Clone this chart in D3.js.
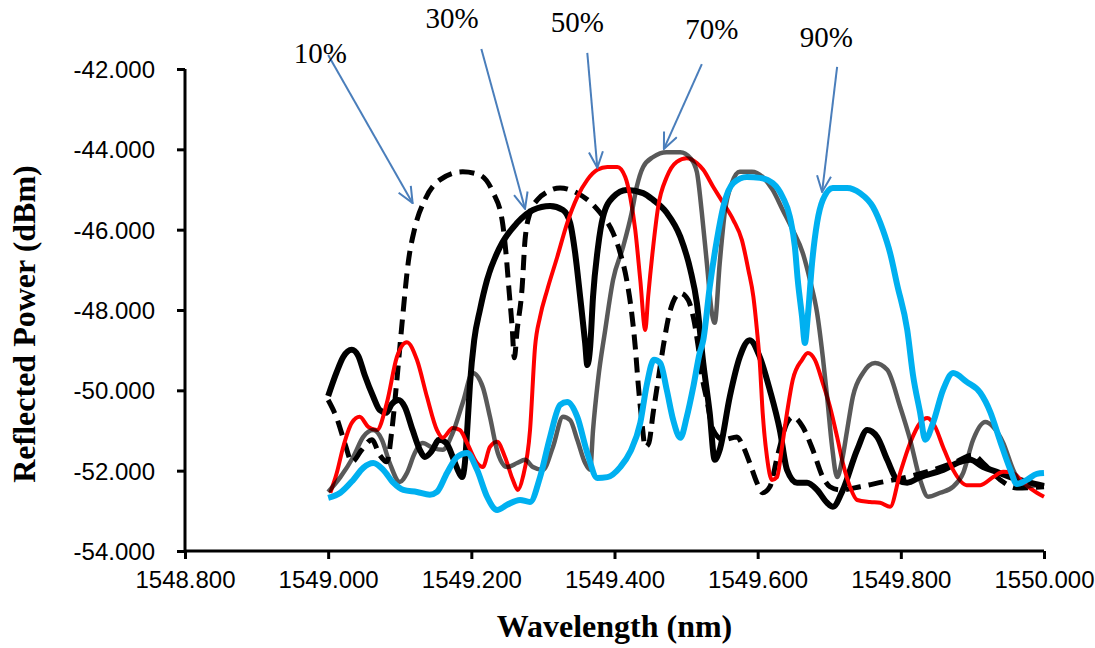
<!DOCTYPE html>
<html>
<head>
<meta charset="utf-8">
<script src="https://cdn.jsdelivr.net/npm/d3@7/dist/d3.min.js"></script>
<style>
  body { margin: 0; background: #fff; }
  .tick text { font-family: "Liberation Sans", Arial, sans-serif; font-size: 24px; fill: #000; }
</style>
</head>
<body>
<div class="viz"></div>
<script>
// axis ticks
var xTicks = [1548.8, 1549.0, 1549.2, 1549.4, 1549.6, 1549.8, 1550.0]
var yTicks = [-54, -52, -50, -48, -46, -44, -42]

var seriesNames = ["10%", "30%", "50%", "70%", "90%"]

// [wavelength (nm), reflected power (dBm)]
var s10 = [[1549.000,-50.24],[1549.012,-50.69],[1549.024,-51.36],[1549.033,-51.78],[1549.047,-51.48],[1549.061,-51.23],[1549.072,-51.61],[1549.082,-51.78],[1549.089,-50.99],[1549.096,-49.74],[1549.103,-48.37],[1549.112,-46.80],[1549.121,-45.96],[1549.135,-45.26],[1549.156,-44.76],[1549.188,-44.56],[1549.212,-44.64],[1549.230,-45.06],[1549.243,-45.76],[1549.248,-46.51],[1549.253,-47.58],[1549.257,-48.42],[1549.260,-49.19],[1549.264,-48.50],[1549.271,-47.43],[1549.275,-46.26],[1549.282,-45.58],[1549.292,-45.26],[1549.306,-45.06],[1549.324,-44.96],[1549.348,-45.09],[1549.366,-45.31],[1549.380,-45.58],[1549.398,-46.08],[1549.408,-46.58],[1549.417,-47.25],[1549.424,-48.07],[1549.429,-48.92],[1549.433,-49.82],[1549.438,-50.74],[1549.443,-51.41],[1549.448,-51.31],[1549.454,-50.56],[1549.461,-49.74],[1549.468,-48.92],[1549.478,-48.00],[1549.492,-47.58],[1549.503,-47.75],[1549.510,-48.17],[1549.517,-48.92],[1549.522,-49.62],[1549.529,-50.24],[1549.538,-50.99],[1549.552,-51.23],[1549.571,-51.16],[1549.580,-51.41],[1549.589,-51.81],[1549.599,-52.30],[1549.607,-52.55],[1549.617,-52.40],[1549.628,-51.61],[1549.641,-50.81],[1549.649,-50.66],[1549.663,-50.91],[1549.677,-51.48],[1549.691,-52.16],[1549.701,-52.40],[1549.715,-52.48],[1549.743,-52.40],[1549.775,-52.28],[1549.809,-52.16],[1549.845,-51.98],[1549.873,-51.81],[1549.901,-51.61],[1549.915,-51.81],[1549.939,-52.23],[1549.962,-52.43],[1550.000,-52.40]]

var s30 = [[1549.000,-50.14],[1549.012,-49.54],[1549.021,-49.17],[1549.033,-48.99],[1549.042,-49.14],[1549.051,-49.62],[1549.063,-50.16],[1549.072,-50.49],[1549.081,-50.56],[1549.089,-50.34],[1549.098,-50.24],[1549.107,-50.41],[1549.118,-50.99],[1549.128,-51.48],[1549.135,-51.66],[1549.144,-51.53],[1549.155,-51.23],[1549.165,-51.31],[1549.174,-51.66],[1549.181,-51.98],[1549.187,-52.16],[1549.191,-51.81],[1549.194,-51.06],[1549.198,-49.87],[1549.204,-48.75],[1549.212,-48.00],[1549.222,-47.25],[1549.240,-46.43],[1549.264,-45.83],[1549.286,-45.51],[1549.310,-45.41],[1549.328,-45.51],[1549.338,-45.83],[1549.345,-46.58],[1549.352,-47.67],[1549.359,-48.82],[1549.362,-49.37],[1549.366,-48.92],[1549.370,-47.67],[1549.377,-46.43],[1549.384,-45.68],[1549.398,-45.19],[1549.417,-45.01],[1549.440,-45.09],[1549.454,-45.26],[1549.473,-45.58],[1549.492,-46.18],[1549.506,-47.00],[1549.515,-47.82],[1549.524,-49.32],[1549.533,-50.56],[1549.540,-51.73],[1549.547,-51.48],[1549.561,-50.16],[1549.575,-49.17],[1549.589,-48.75],[1549.603,-49.17],[1549.617,-49.99],[1549.631,-50.99],[1549.641,-51.98],[1549.655,-52.30],[1549.669,-52.30],[1549.683,-52.48],[1549.697,-52.80],[1549.705,-52.90],[1549.719,-52.48],[1549.739,-51.48],[1549.753,-50.99],[1549.767,-51.16],[1549.781,-51.73],[1549.795,-52.23],[1549.809,-52.30],[1549.827,-52.16],[1549.859,-51.98],[1549.883,-51.78],[1549.897,-51.73],[1549.915,-51.91],[1549.934,-52.03],[1549.953,-52.16],[1549.976,-52.28],[1550.000,-52.38]]

var s50 = [[1549.003,-52.55],[1549.012,-52.06],[1549.021,-51.41],[1549.033,-50.81],[1549.044,-50.66],[1549.056,-50.91],[1549.068,-50.99],[1549.082,-50.31],[1549.096,-49.17],[1549.110,-48.80],[1549.124,-49.24],[1549.138,-50.16],[1549.152,-50.99],[1549.160,-51.18],[1549.174,-50.94],[1549.184,-50.99],[1549.194,-51.31],[1549.208,-51.81],[1549.216,-51.91],[1549.226,-51.41],[1549.236,-51.28],[1549.247,-51.66],[1549.258,-52.23],[1549.265,-52.48],[1549.272,-52.16],[1549.282,-50.99],[1549.289,-48.92],[1549.296,-48.17],[1549.306,-47.50],[1549.320,-46.68],[1549.334,-45.83],[1549.348,-45.19],[1549.362,-44.76],[1549.376,-44.51],[1549.390,-44.44],[1549.404,-44.44],[1549.415,-44.69],[1549.422,-45.19],[1549.429,-46.01],[1549.436,-47.25],[1549.443,-48.50],[1549.447,-47.67],[1549.454,-46.43],[1549.461,-45.43],[1549.473,-44.69],[1549.487,-44.31],[1549.501,-44.22],[1549.515,-44.34],[1549.524,-44.51],[1549.538,-44.94],[1549.552,-45.34],[1549.566,-45.76],[1549.578,-46.26],[1549.587,-47.00],[1549.594,-47.67],[1549.599,-48.50],[1549.603,-49.32],[1549.607,-50.56],[1549.613,-51.66],[1549.620,-52.23],[1549.627,-52.16],[1549.634,-51.41],[1549.641,-50.56],[1549.649,-49.74],[1549.662,-49.24],[1549.670,-49.07],[1549.680,-49.24],[1549.691,-49.82],[1549.701,-50.41],[1549.711,-51.16],[1549.719,-51.81],[1549.729,-52.40],[1549.739,-52.73],[1549.757,-52.78],[1549.771,-52.80],[1549.785,-52.90],[1549.799,-52.06],[1549.813,-51.31],[1549.827,-50.81],[1549.837,-50.69],[1549.848,-50.91],[1549.859,-51.41],[1549.873,-51.98],[1549.892,-52.36],[1549.911,-52.36],[1549.929,-52.16],[1549.943,-52.03],[1549.957,-52.06],[1549.971,-52.30],[1549.990,-52.55],[1550.000,-52.65]]

var s70 = [[1549.000,-52.53],[1549.017,-52.16],[1549.035,-51.66],[1549.049,-51.16],[1549.063,-50.99],[1549.075,-51.23],[1549.086,-51.81],[1549.100,-52.28],[1549.110,-52.06],[1549.121,-51.56],[1549.132,-51.31],[1549.146,-51.43],[1549.160,-51.48],[1549.174,-51.06],[1549.188,-50.31],[1549.202,-49.57],[1549.216,-49.92],[1549.226,-50.66],[1549.237,-51.56],[1549.250,-51.91],[1549.264,-51.81],[1549.275,-51.73],[1549.286,-51.91],[1549.300,-51.98],[1549.314,-51.41],[1549.328,-50.66],[1549.338,-50.74],[1549.348,-51.23],[1549.359,-51.81],[1549.366,-51.98],[1549.370,-50.99],[1549.377,-49.74],[1549.387,-48.50],[1549.398,-47.25],[1549.412,-46.43],[1549.424,-45.58],[1549.431,-44.94],[1549.440,-44.44],[1549.454,-44.19],[1549.473,-44.07],[1549.492,-44.07],[1549.506,-44.22],[1549.515,-44.56],[1549.522,-45.58],[1549.529,-46.83],[1549.536,-48.07],[1549.540,-48.32],[1549.547,-46.83],[1549.554,-45.58],[1549.564,-44.84],[1549.575,-44.56],[1549.592,-44.56],[1549.607,-44.69],[1549.621,-45.01],[1549.635,-45.51],[1549.649,-46.01],[1549.663,-46.58],[1549.673,-47.25],[1549.683,-48.07],[1549.691,-49.17],[1549.697,-50.16],[1549.704,-51.41],[1549.711,-52.16],[1549.718,-51.73],[1549.725,-50.99],[1549.733,-50.16],[1549.747,-49.57],[1549.764,-49.32],[1549.781,-49.49],[1549.799,-50.41],[1549.813,-51.23],[1549.827,-52.23],[1549.838,-52.65],[1549.855,-52.55],[1549.873,-52.40],[1549.887,-52.06],[1549.901,-51.23],[1549.918,-50.79],[1549.929,-50.91],[1549.943,-51.31],[1549.957,-51.98],[1549.971,-52.40],[1549.990,-52.36],[1550.000,-52.40]]

var s90 = [[1549.000,-52.68],[1549.017,-52.55],[1549.035,-52.23],[1549.049,-51.93],[1549.063,-51.81],[1549.077,-51.98],[1549.091,-52.30],[1549.105,-52.48],[1549.124,-52.53],[1549.142,-52.60],[1549.152,-52.53],[1549.166,-52.06],[1549.180,-51.66],[1549.194,-51.56],[1549.208,-51.98],[1549.222,-52.65],[1549.236,-52.98],[1549.250,-52.85],[1549.268,-52.73],[1549.282,-52.78],[1549.296,-52.16],[1549.310,-51.16],[1549.324,-50.36],[1549.334,-50.29],[1549.348,-50.66],[1549.362,-51.56],[1549.376,-52.18],[1549.390,-52.16],[1549.408,-51.91],[1549.422,-51.53],[1549.436,-50.81],[1549.445,-49.87],[1549.455,-49.24],[1549.464,-49.32],[1549.473,-49.99],[1549.482,-50.74],[1549.492,-51.18],[1549.501,-50.66],[1549.510,-49.92],[1549.519,-49.07],[1549.524,-48.75],[1549.533,-47.43],[1549.543,-46.26],[1549.552,-45.43],[1549.566,-44.84],[1549.585,-44.69],[1549.603,-44.71],[1549.621,-44.84],[1549.635,-45.19],[1549.645,-45.68],[1549.652,-46.43],[1549.656,-47.25],[1549.662,-48.17],[1549.666,-48.82],[1549.670,-48.17],[1549.676,-46.83],[1549.683,-45.83],[1549.691,-45.26],[1549.705,-44.96],[1549.725,-44.96],[1549.743,-45.09],[1549.761,-45.43],[1549.775,-46.01],[1549.785,-46.58],[1549.795,-47.38],[1549.809,-48.50],[1549.817,-49.62],[1549.827,-50.56],[1549.834,-51.23],[1549.845,-50.81],[1549.859,-49.99],[1549.873,-49.57],[1549.892,-49.79],[1549.911,-50.06],[1549.925,-50.54],[1549.939,-51.28],[1549.953,-51.98],[1549.962,-52.33],[1549.976,-52.23],[1549.990,-52.08],[1550.000,-52.06]]

// annotation labels: [text x, text y, arrow start x, y, arrow tip x, y] in data units
var labelPos = [
    [1548.989, -41.85, 1549.000, -41.65, 1549.118, -45.34],
    [1549.173, -40.98, 1549.214, -41.50, 1549.275, -45.48],
    [1549.348, -41.08, 1549.362, -41.60, 1549.376, -44.46],
    [1549.536, -41.25, 1549.522, -41.88, 1549.469, -43.99],
    [1549.696, -41.45, 1549.711, -41.95, 1549.690, -45.06]
]

var width = 1095, height = 648
var margin = {top: 69, right: 51, bottom: 97, left: 185}

var svg = d3.select(".viz").append("svg")
    .attr("width", width)
    .attr("height", height)
    .style("display", "block")

svg.append("rect").attr("width", width).attr("height", height).attr("fill", "#fff")

var x = d3.scaleLinear().domain([1548.8, 1550.0]).range([margin.left, width - margin.right])
var y = d3.scaleLinear().domain([-54, -42]).range([height - margin.bottom, margin.top])

// axes
var xAxis = svg.append("g")
    .attr("transform", "translate(0," + y(-54) + ")")
    .call(d3.axisBottom(x).tickValues(xTicks).tickSize(8).tickPadding(12)
        .tickFormat(function(d) { return d.toFixed(3) }))
var yAxis = svg.append("g")
    .attr("transform", "translate(" + x(1548.8) + ",0)")
    .call(d3.axisLeft(y).tickValues(yTicks).tickSize(8).tickPadding(22)
        .tickFormat(function(d) { return d.toFixed(3) }))

xAxis.select(".domain").attr("d", "M" + x(1548.8) + ",0H" + x(1550.0))
yAxis.select(".domain").attr("d", "M0," + y(-54) + "V" + y(-42))
svg.selectAll(".domain").attr("stroke", "#000").attr("stroke-width", 3)
svg.selectAll(".tick line").attr("stroke", "#000").attr("stroke-width", 3)
yAxis.selectAll(".tick text").attr("dy", "0.35em")

// series
var line = d3.line()
    .x(function(d) { return x(d[0]) })
    .y(function(d) { return y(d[1]) })
    .curve(d3.curveMonotoneX)

var styles = [
    {data: s10, color: "#000", width: 5, dash: "15,8", opacity: 1},
    {data: s30, color: "#000", width: 6, dash: null, opacity: 1},
    {data: s50, color: "#ff0000", width: 4, dash: null, opacity: 1},
    {data: s70, color: "#000", width: 4.5, dash: null, opacity: 0.65},
    {data: s90, color: "#00b0f0", width: 6, dash: null, opacity: 1}
]

svg.append("g").selectAll("path")
    .data(styles)
    .enter().append("path")
    .attr("d", function(d) { return line(d.data) })
    .attr("fill", "none")
    .attr("stroke", function(d) { return d.color })
    .attr("stroke-width", function(d) { return d.width })
    .attr("stroke-dasharray", function(d) { return d.dash })
    .attr("stroke-opacity", function(d) { return d.opacity })
    .attr("stroke-linejoin", "round")

// arrows + labels
svg.append("defs").append("marker")
    .attr("id", "arrow")
    .attr("markerUnits", "userSpaceOnUse")
    .attr("viewBox", "0 0 18 16")
    .attr("markerWidth", 18)
    .attr("markerHeight", 16)
    .attr("refX", 17)
    .attr("refY", 8)
    .attr("orient", "auto")
    .append("path")
    .attr("d", "M1,1L17,8L1,15")
    .attr("fill", "none")
    .attr("stroke", "#4a7ebb")
    .attr("stroke-width", 2)

var ann = svg.append("g")
ann.selectAll("line")
    .data(labelPos)
    .enter().append("line")
    .attr("x1", function(d) { return x(d[2]) })
    .attr("y1", function(d) { return y(d[3]) })
    .attr("x2", function(d) { return x(d[4]) })
    .attr("y2", function(d) { return y(d[5]) })
    .attr("stroke", "#4a7ebb")
    .attr("stroke-width", 2)
    .attr("marker-end", "url(#arrow)")

ann.selectAll("text")
    .data(labelPos)
    .enter().append("text")
    .attr("x", function(d) { return x(d[0]) })
    .attr("y", function(d) { return y(d[1]) })
    .attr("text-anchor", "middle")
    .style("font-family", "'Liberation Serif', 'Times New Roman', serif")
    .style("font-size", "29px")
    .text(function(d, i) { return seriesNames[i] })

// axis titles
svg.append("text")
    .attr("x", (x(1548.8) + x(1550.0)) / 2)
    .attr("y", 637)
    .attr("text-anchor", "middle")
    .style("font-family", "'Liberation Serif', 'Times New Roman', serif")
    .style("font-weight", "bold")
    .style("font-size", "32px")
    .text("Wavelength (nm)")

svg.append("text")
    .attr("transform", "translate(35,324) rotate(-90)")
    .attr("text-anchor", "middle")
    .style("font-family", "'Liberation Serif', 'Times New Roman', serif")
    .style("font-weight", "bold")
    .style("font-size", "32px")
    .text("Reflected Power (dBm)")
</script>
</body>
</html>
